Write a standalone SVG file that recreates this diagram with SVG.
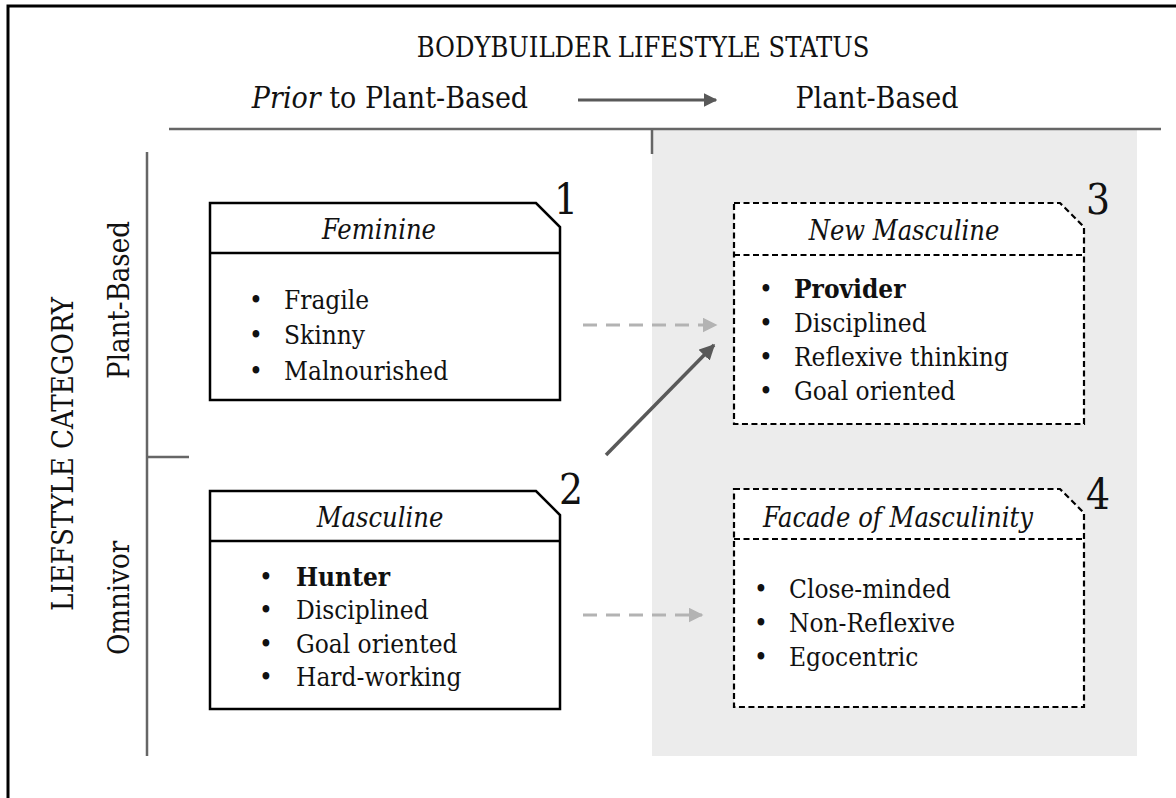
<svg xmlns="http://www.w3.org/2000/svg" width="1176" height="798" viewBox="0 0 1176 798">
  <defs>
    <marker id="headDark" viewBox="0 0 10 10" refX="9" refY="5" markerWidth="4.5" markerHeight="4.5" orient="auto" markerUnits="strokeWidth">
      <path d="M0,0 L10,5 L0,10 z" fill="#595959"/>
    </marker>
    <marker id="headLight" viewBox="0 0 10 10" refX="9" refY="5" markerWidth="5" markerHeight="5" orient="auto" markerUnits="strokeWidth">
      <path d="M0,0 L10,5 L0,10 z" fill="#b3b3b3"/>
    </marker>
    <style>
      text { font-family: "DejaVu Serif Condensed", "DejaVu Serif", "Liberation Serif", serif; fill: #111; }
      .head { font-size: 27px; }
      .side { font-size: 29px; }
      .sub { font-size: 30px; }
      .title { font-size: 27px; font-style: italic; text-anchor: middle; }
      .item { font-size: 26px; }
      .bold { font-weight: bold; }
      .num { font-size: 42px; }
      .axis { stroke: #666; stroke-width: 2.5; fill: none; }
      .box { fill: #fff; stroke: #000; stroke-width: 2.5; }
      .boxd { fill: #fff; stroke: #000; stroke-width: 2.2; stroke-dasharray: 6 3.5; }
      .sep { stroke: #000; stroke-width: 2.5; }
      .sepd { stroke: #000; stroke-width: 2.2; stroke-dasharray: 6 3.5; }
    </style>
  </defs>

  <rect width="1176" height="798" fill="#fff"/>
  <!-- outer frame: top and left edges -->
  <path d="M8,798 V6 H1176" fill="none" stroke="#000" stroke-width="3"/>

  <!-- shaded plant-based column -->
  <rect x="652" y="129" width="485" height="627" fill="#ececec"/>

  <!-- axes -->
  <g id="axes">
    <line class="axis" x1="169" y1="129" x2="1161" y2="129"/>
    <line class="axis" x1="652" y1="129" x2="652" y2="154"/>
    <line class="axis" x1="147" y1="152" x2="147" y2="756"/>
    <line class="axis" x1="147" y1="457" x2="189" y2="457"/>
  </g>

  <!-- headings -->
  <g id="headings">
    <text class="head" x="643" y="57" text-anchor="middle">BODYBUILDER LIFESTYLE STATUS</text>
    <text class="sub" x="390" y="108" text-anchor="middle"><tspan font-style="italic">Prior</tspan> to Plant-Based</text>
    <text class="sub" x="877" y="108" text-anchor="middle">Plant-Based</text>
    <text class="side" transform="translate(73,454) rotate(-90)" text-anchor="middle">LIEFSTYLE CATEGORY</text>
    <text class="side" transform="translate(129,300) rotate(-90)" text-anchor="middle">Plant-Based</text>
    <text class="side" transform="translate(129,598) rotate(-90)" text-anchor="middle">Omnivor</text>
  </g>

  <!-- connectors -->
  <g id="connectors">
    <line x1="578" y1="100" x2="716" y2="100" stroke="#595959" stroke-width="3" marker-end="url(#headDark)"/>
    <line x1="583" y1="325" x2="716" y2="325" stroke="#b3b3b3" stroke-width="3" stroke-dasharray="14 9" marker-end="url(#headLight)"/>
    <line x1="583" y1="615" x2="702" y2="615" stroke="#b3b3b3" stroke-width="3" stroke-dasharray="14 9" marker-end="url(#headLight)"/>
    <line x1="606" y1="455" x2="714" y2="345" stroke="#595959" stroke-width="3.5" marker-end="url(#headDark)"/>
  </g>

  <!-- 1: Feminine -->
  <g id="node-feminine">
    <path class="box" d="M210,203 H536 L560,227 V400 H210 Z"/>
    <line class="sep" x1="210" y1="253" x2="560" y2="253"/>
    <text class="num" x="554" y="214">1</text>
    <text class="title" x="379" y="239">Feminine</text>
    <text class="item" x="249" y="309">•</text><text class="item" x="284" y="309">Fragile</text>
    <text class="item" x="249" y="344">•</text><text class="item" x="284" y="344">Skinny</text>
    <text class="item" x="249" y="380">•</text><text class="item" x="284" y="380">Malnourished</text>
  </g>

  <!-- 2: Masculine -->
  <g id="node-masculine">
    <path class="box" d="M210,491 H536 L560,515 V709 H210 Z"/>
    <line class="sep" x1="210" y1="541" x2="560" y2="541"/>
    <text class="num" x="559" y="504">2</text>
    <text class="title" x="380" y="527">Masculine</text>
    <text class="item" x="259" y="586">•</text><text class="item bold" x="296" y="586">Hunter</text>
    <text class="item" x="259" y="619">•</text><text class="item" x="296" y="619">Disciplined</text>
    <text class="item" x="259" y="653">•</text><text class="item" x="296" y="653">Goal oriented</text>
    <text class="item" x="259" y="686">•</text><text class="item" x="296" y="686">Hard-working</text>
  </g>

  <!-- 3: New Masculine -->
  <g id="node-new-masculine">
    <path class="boxd" d="M734,203 H1060 L1084,227 V424 H734 Z"/>
    <line class="sepd" x1="734" y1="255" x2="1084" y2="255"/>
    <text class="num" x="1086" y="214">3</text>
    <text class="title" x="904" y="240">New Masculine</text>
    <text class="item" x="759" y="298">•</text><text class="item bold" x="794" y="298">Provider</text>
    <text class="item" x="759" y="332">•</text><text class="item" x="794" y="332">Disciplined</text>
    <text class="item" x="759" y="366">•</text><text class="item" x="794" y="366">Reflexive thinking</text>
    <text class="item" x="759" y="400">•</text><text class="item" x="794" y="400">Goal oriented</text>
  </g>

  <!-- 4: Facade of Masculinity -->
  <g id="node-facade">
    <path class="boxd" d="M734,489 H1060 L1084,513 V707 H734 Z"/>
    <line class="sepd" x1="734" y1="539" x2="1084" y2="539"/>
    <text class="num" x="1086" y="509">4</text>
    <text class="title" x="898" y="527">Facade of Masculinity</text>
    <text class="item" x="754" y="598">•</text><text class="item" x="789" y="598">Close-minded</text>
    <text class="item" x="754" y="632">•</text><text class="item" x="789" y="632">Non-Reflexive</text>
    <text class="item" x="754" y="666">•</text><text class="item" x="789" y="666">Egocentric</text>
  </g>
</svg>
